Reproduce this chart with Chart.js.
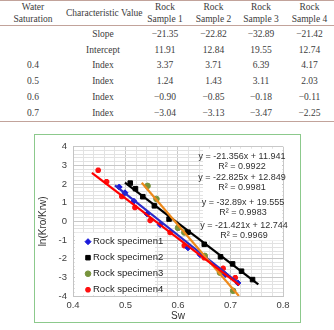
<!DOCTYPE html>
<html>
<head>
<meta charset="utf-8">
<script src="https://cdn.jsdelivr.net/npm/chart.js@4.4.0/dist/chart.umd.min.js"></script>
<style>
  body { margin: 0; background: #fff; width: 334px; height: 330px; overflow: hidden; position: relative; }
  table { position: absolute; left: 0; top: 0; width: 334px; border-collapse: collapse; table-layout: fixed;
          font-family: "Liberation Serif", "DejaVu Serif", serif; font-size: 9.5px; color: #3c3c3c; }
  th { font-weight: normal; line-height: 12px; padding: 0; white-space: nowrap; }
  td { padding: 0; text-align: center; height: 15.8px; white-space: nowrap; }
  thead tr { height: 25px; border-top: 1px solid #c2a39b; border-bottom: 1px solid #c2a39b; }
  tbody tr:last-child { border-bottom: 1px solid #c2a39b; }
  #box { position: absolute; left: 34px; top: 134px; width: 265px; height: 187px; border: 1px solid #8cc98c; }
</style>
</head>
<body>
<table id="tbl">
  <colgroup><col style="width:66px"><col style="width:74px"><col style="width:50px"><col style="width:47px"><col style="width:48px"><col style="width:49px"></colgroup>
  <thead><tr id="head"></tr></thead>
  <tbody id="rows"></tbody>
</table>
<div id="box"><canvas id="c" width="265" height="187"></canvas></div>
<script>
// table
const headers = ['Water<br>Saturation', 'Characteristic Value', 'Rock<br>Sample 1', 'Rock<br>Sample 2', 'Rock<br>Sample 3', 'Rock<br>Sample 4'];
const waterSat = ['', '', '0.4', '0.5', '0.6', '0.7'];
const charValue = ['Slope', 'Intercept', 'Index', 'Index', 'Index', 'Index'];
const sample1 = [-21.35, 11.91, 3.37, 1.24, -0.90, -3.04];
const sample2 = [-22.82, 12.84, 3.71, 1.43, -0.85, -3.13];
const sample3 = [-32.89, 19.55, 6.39, 3.11, -0.18, -3.47];
const sample4 = [-21.42, 12.74, 4.17, 2.03, -0.11, -2.25];

// chart points (Sw, ln(Kro/Krw))
const sw1 = [0.488, 0.499, 0.516, 0.541, 0.566, 0.619, 0.642, 0.690, 0.714];
const ln1 = [1.84, 1.53, 1.08, 0.40, -0.18, -1.42, -1.79, -2.85, -3.30];
const sw2 = [0.509, 0.519, 0.533, 0.555, 0.583, 0.619, 0.650, 0.681, 0.704, 0.721, 0.742];
const ln2 = [2.05, 1.75, 1.32, 0.83, 0.12, -0.58, -1.23, -1.90, -2.28, -2.67, -3.12];
const sw3 = [0.542, 0.559, 0.600, 0.612, 0.651, 0.680, 0.705];
const ln3 = [1.90, 1.20, -0.35, -0.60, -1.85, -2.75, -3.72];
const sw4 = [0.448, 0.464, 0.493, 0.518, 0.547, 0.585, 0.612, 0.650, 0.686, 0.709];
const ln4 = [2.74, 2.12, 1.33, 0.74, 0.05, -0.60, -1.30, -1.95, -2.52, -3.02];

// trendline ends as seen
const trendX1 = [0.480, 0.718], trendY1 = [1.93, -3.37];
const trendX2 = [0.499, 0.753], trendY2 = [2.07, -3.38];
const trendX3 = [0.531, 0.716], trendY3 = [2.07, -4.00];
const trendX4 = [0.436, 0.717], trendY4 = [2.60, -3.42];

const seriesNames = ['Rock specimen1', 'Rock specimen2', 'Rock specimen3', 'Rock specimen4'];
const eqTexts = ['y = -21.356x + 11.941', 'y = -22.825x + 12.849', 'y = -32.89x + 19.555', 'y = -21.421x + 12.744'];
const r2Texts = ['R\u00b2 = 0.9922', 'R\u00b2 = 0.9981', 'R\u00b2 = 0.9983', 'R\u00b2 = 0.9969'];

const fmt = v => v.toFixed(2).replace('-', '\u2212');
document.getElementById('head').innerHTML = headers.map(h => `<th>${h}</th>`).join('');
document.getElementById('rows').innerHTML = charValue.map((cv, i) => `
  <tr><td>${waterSat[i]}</td><td>${cv}</td><td>${fmt(sample1[i])}</td><td>${fmt(sample2[i])}</td><td>${fmt(sample3[i])}</td><td>${fmt(sample4[i])}</td></tr>`).join('');

const pts = (xs, ys) => xs.map((x, i) => ({ x, y: ys[i] }));
const styles = [
  { color: '#1a1adb', style: 'rectRot', radius: 3, bw: 1 },
  { color: '#000000', style: 'rect', radius: 3.2, bw: 1 },
  { color: '#77933c', style: 'circle', radius: 2.8, bw: 1 },
  { color: '#ff1010', style: 'star', radius: 2.8, bw: 2 }
];
const pointSets = [pts(sw1, ln1), pts(sw2, ln2), pts(sw3, ln3), pts(sw4, ln4)];
const trendSets = [pts(trendX1, trendY1), pts(trendX2, trendY2), pts(trendX3, trendY3), pts(trendX4, trendY4)];
const trendColors = ['#2b2bc8', '#000000', '#ee8a1c', '#ff0000'];
const trendOrder = [2, 3, 1, 0];

const datasets = [];
pointSets.forEach((d, i) => datasets.push({
  label: seriesNames[i], data: d, showLine: false, order: 10 + i,
  pointStyle: styles[i].style, pointRadius: styles[i].radius, borderWidth: styles[i].bw,
  backgroundColor: styles[i].color, borderColor: styles[i].color
}));
trendSets.forEach((d, i) => datasets.push({
  label: 'trend' + (i + 1), data: d, showLine: true, pointRadius: 0, order: trendOrder[i],
  borderColor: trendColors[i], borderWidth: 2.2
}));

const isInt = (v, step) => Math.abs(v / step - Math.round(v / step)) < 1e-6;

const overlay = {
  id: 'overlay',
  afterDraw(chart) {
    const ctx = chart.ctx, a = chart.chartArea;
    ctx.save();
    // legend
    ctx.fillStyle = '#fff';
    ctx.fillRect(a.left + 2, a.top + 86, 80, a.bottom - a.top - 87);
    ctx.font = '9.5px "Liberation Sans", Arial, sans-serif';
    ctx.textBaseline = 'middle';
    seriesNames.forEach((n, i) => {
      const y = a.top + 95 + i * 16;
      ctx.fillStyle = styles[i].color; ctx.strokeStyle = styles[i].color; ctx.lineWidth = styles[i].bw;
      Chart.helpers.drawPoint(ctx, { pointStyle: styles[i].style, radius: styles[i].radius, borderWidth: styles[i].bw, rotation: 0 }, a.left + 15, y);
      ctx.fillStyle = '#222';
      ctx.textAlign = 'left';
      ctx.fillText(n, a.left + 20, y);
    });
    // equation labels
    ctx.fillStyle = '#fff';
    ctx.fillRect(a.right - 80, a.top + 2, 79, 92);
    ctx.font = '9px "Liberation Sans", Arial, sans-serif';
    ctx.textAlign = 'center';
    ctx.fillStyle = '#303030';
    const eqY = [10, 31, 56, 79], eqX = [41, 41, 40, 39];
    eqTexts.forEach((t, i) => {
      ctx.fillText(t, a.right - eqX[i], a.top + eqY[i]);
      ctx.fillText(r2Texts[i], a.right - eqX[i], a.top + eqY[i] + 9.5);
    });
    ctx.restore();
  }
};

new Chart(document.getElementById('c'), {
  type: 'scatter',
  data: { datasets },
  options: {
    responsive: false, animation: false,
    layout: { padding: { top: 9, right: 17, left: 0, bottom: 0 } },
    plugins: { legend: { display: false }, tooltip: { enabled: false } },
    scales: {
      x: {
        min: 0.4, max: 0.8,
        afterFit: s => { s.height = 26; },
        border: { color: '#c4c4c4' },
        grid: { drawTicks: false, color: c => isInt(c.tick.value, 0.1) ? '#c8c8c8' : '#e2e2e2' },
        ticks: { stepSize: 0.02, autoSkip: false, maxRotation: 0, padding: 4, color: '#404040',
                 font: { family: '"Liberation Sans", Arial, sans-serif', size: 9.5 },
                 callback: v => isInt(v, 0.1) ? v.toFixed(1) : '' },
        title: { display: true, text: 'Sw', color: '#303030', padding: 0,
                 font: { family: '"Liberation Sans", Arial, sans-serif', size: 10 } }
      },
      y: {
        min: -4, max: 4,
        afterFit: s => { s.width = 38; },
        border: { color: '#c4c4c4' },
        grid: { drawTicks: false, color: c => isInt(c.tick.value, 1) ? '#c8c8c8' : '#e2e2e2' },
        ticks: { stepSize: 0.2, autoSkip: false, padding: 6, color: '#404040',
                 font: { family: '"Liberation Sans", Arial, sans-serif', size: 9.5 },
                 callback: v => isInt(v, 1) ? String(Math.round(v)) : '' },
        title: { display: true, text: 'ln(Kro/Krw)', color: '#303030', padding: { top: 2, bottom: 0 },
                 font: { family: '"Liberation Sans", Arial, sans-serif', size: 10 } }
      }
    }
  },
  plugins: [overlay]
});
</script>
</body>
</html>
